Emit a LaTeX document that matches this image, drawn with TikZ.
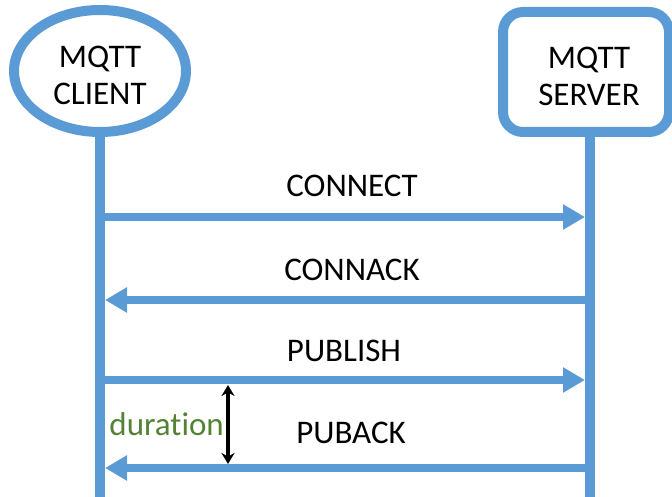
\documentclass[tikz,border=0pt]{standalone}
\usepackage{fontspec}
\setmainfont{Carlito}[Ligatures=NoCommon]
\usetikzlibrary{positioning, arrows.meta, shapes.geometric}
\definecolor{mqttblue}{RGB}{91,155,213}
\definecolor{durgreen}{RGB}{84,130,53}

\begin{document}
\begin{tikzpicture}[
        x=1pt, y=1pt,
        font=\fontsize{33}{37}\selectfont,
        party/.style={draw=mqttblue, line width=10pt, fill=white, align=center, inner sep=0pt},
        lifeline/.style={draw=mqttblue, line width=10pt},
        msg/.style={-{Triangle[length=22pt, width=24pt]}, draw=mqttblue, line width=8pt},
        msglabel/.style={above=15pt, inner sep=0pt},
        span/.style={{Stealth[length=11pt, width=13pt]}-{Stealth[length=11pt, width=13pt]}, line width=3.2pt}
    ]

    \useasboundingbox (0,0) rectangle (672,497);

    % the two parties
    \node[party, ellipse, minimum width=172pt, minimum height=122pt] (client) at (100,426)
        {\raisebox{-8pt}[\height][\depth]{\begin{tabular}{@{}c@{}}MQTT\\CLIENT\end{tabular}}};
    \node[party, rectangle, rounded corners=20pt, minimum width=166pt, minimum height=120pt] (server) at (586,425)
        {\raisebox{-8pt}[\height][\depth]{\begin{tabular}{@{\hspace{6pt}}c@{}}MQTT\\SERVER\end{tabular}}};

    % lifelines
    \coordinate (cend) at (100,0);
    \coordinate (send) at (590,0);
    \draw[lifeline] (client.south) -- (cend);
    \draw[lifeline] (server.south -| send) -- (send);

    % message ends on the lifelines
    \coordinate (c1) at (105,280);
    \coordinate (s1) at (585,280);
    \coordinate (c2) at (105,197);
    \coordinate (s2) at (585,197);
    \coordinate (c3) at (105,117);
    \coordinate (s3) at (585,117);
    \coordinate (c4) at (105,29);
    \coordinate (s4) at (585,29);

    % messages
    \draw[msg] (c1) -- node[msglabel, above=16pt, xshift=7pt] (lconnect) {CONNECT} (s1);
    \draw[msg] (s2) -- node[msglabel, xshift=7pt] (lconnack) {CONNACK} (c2);
    \draw[msg] (c3) -- node[msglabel, above=14pt, xshift=-1pt] (lpublish) {PUBLISH} (s3);
    \draw[msg] (s4) -- node[msglabel, above=20pt, xshift=6pt] (lpuback) {PUBACK} (c4);

    % duration between publish and puback
    \coordinate (dtop) at (228,112);
    \coordinate (dbot) at (228,33);
    \draw[span] (dtop) -- coordinate (dmid) (dbot);
    \node[text=durgreen, inner sep=0pt, left=4pt of dmid] (duration) {duration};

\end{tikzpicture}
\end{document}
